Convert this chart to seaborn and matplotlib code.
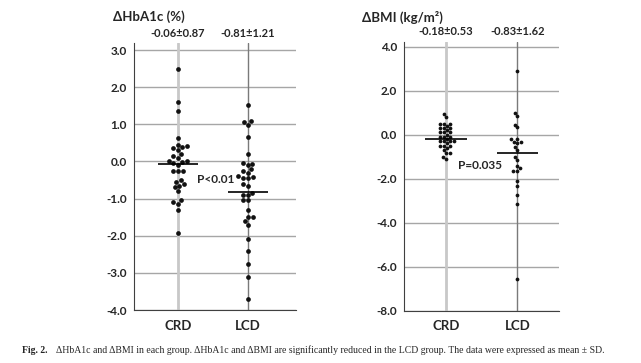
import pandas as pd
import numpy as np
import matplotlib.pyplot as plt
import matplotlib.transforms as mtransforms
import seaborn as sns

# Valores
grupos = ['CRD', 'LCD']

hba1c_crd = [2.5, 1.6, 1.35, 0.62, 0.45, 0.42, 0.38, 0.35, 0.3, 0.2, 0.15, 0.1, 0.02, 0.0,
             -0.02, -0.05, -0.1, -0.25, -0.25, -0.25, -0.5, -0.55, -0.6, -0.65, -0.7, -0.8,
             -1.05, -1.1, -1.15, -1.3, -1.93]
hba1c_lcd = [1.52, 1.08, 1.05, 0.98, 0.65, 0.2, -0.05, -0.08, -0.1, -0.2, -0.25, -0.3, -0.4,
             -0.42, -0.45, -0.45, -0.6, -0.65, -0.85, -0.9, -0.9, -1.05, -1.05, -1.3, -1.5,
             -1.5, -1.6, -1.7, -2.1, -2.4, -2.75, -3.1, -3.7]
bmi_crd = [0.95, 0.8, 0.5, 0.5, 0.5, 0.4, 0.3, 0.3, 0.3, 0.2, 0.1, 0.1, 0.1, 0.0, -0.1, -0.1,
           -0.1, -0.2, -0.3, -0.3, -0.3, -0.3, -0.4, -0.5, -0.5, -0.5, -0.6, -0.7, -0.85,
           -0.85, -1.0, -1.1]
bmi_lcd = [2.9, 1.0, 0.86, 0.45, 0.33, -0.22, -0.22, -0.33, -0.33, -0.4, -0.55, -0.68,
           -1.0, -1.13, -1.43, -1.53, -1.65, -1.65, -2.1, -2.33, -2.75, -3.14, -6.55]

media_hba1c = [-0.06, -0.81]
dp_hba1c = [0.87, 1.21]
media_bmi = [-0.18, -0.83]
dp_bmi = [0.53, 1.62]

ticks_hba1c = [3, 2, 1, 0, -1, -2, -3, -4]
ticks_bmi = [4, 2, 0, -2, -4, -6, -8]

sns.set_style('white')
plt.rcParams['font.family'] = ['Lato', 'DejaVu Sans']

fig = plt.figure(figsize=(6.41, 3.63), dpi=100)
ax1 = fig.add_axes([0.209, 0.146, 0.2527, 0.7355])
ax2 = fig.add_axes([0.630, 0.144, 0.2418, 0.741])

paineis = [
    (ax1, hba1c_crd, hba1c_lcd, media_hba1c, dp_hba1c, ticks_hba1c, (-4, 3.19), (-0.63, 1.69),
     'ΔHbA1c (%)', (0.176, 0.953), 0.909, 'P<0.01', (0.27, -0.49), 3.4),
    (ax2, bmi_crd, bmi_lcd, media_bmi, dp_bmi, ticks_bmi, (-8, 4.22), (-0.59, 1.58),
     'ΔBMI (kg/m²)', (0.565, 0.953), 0.913, 'P=0.035', (0.17, -1.4), 2.7),
]

for ax, crd, lcd, medias, dps, ticks, ylim, xlim, titulo, tpos, ytopo, ptxt, ppos, tam in paineis:
    df = pd.DataFrame({
        'grupo': ['CRD'] * len(crd) + ['LCD'] * len(lcd),
        'valor': crd + lcd,
    })
    for t in ticks:
        ax.axhline(t, color='#a6a6a6', lw=1, zorder=0)
    ax.axvline(0, color='#c8c8c8', lw=2, zorder=0.5)
    ax.axvline(1, color='#7a7a7a', lw=1, zorder=0.5)
    sns.swarmplot(data=df, x='grupo', y='valor', order=grupos, color='#111111',
                  size=tam, ax=ax, zorder=3)
    for i, m in enumerate(medias):
        ax.hlines(m, i - 0.29, i + 0.29, color='black', lw=1.2, zorder=4)
    ax.set_xlim(*xlim)
    ax.set_ylim(*ylim)
    ax.set_yticks(ticks)
    ax.set_yticklabels([f'{t:.1f}' for t in ticks], fontweight='bold', fontsize=8.5)
    ax.set_xticks([0, 1])
    ax.set_xticklabels(grupos, fontweight='bold', fontsize=9.5)
    ax.set_xlabel('')
    ax.set_ylabel('')
    ax.tick_params(axis='y', length=3, color='#808080', pad=2)
    ax.tick_params(axis='x', length=0, pad=7)
    for lado in ['top', 'right']:
        ax.spines[lado].set_visible(False)
    ax.spines['left'].set_color('#404040')
    ax.spines['bottom'].set_color('#404040')
    trans = mtransforms.blended_transform_factory(ax.transData, fig.transFigure)
    for i in range(2):
        ax.text(i, ytopo, f'{medias[i]:.2f}±{dps[i]:.2f}', transform=trans,
                ha='center', va='center', fontsize=8, fontweight='bold')
    fig.text(tpos[0], tpos[1], titulo, ha='left', va='center', fontsize=9.5, fontweight='bold')
    ax.text(ppos[0], ppos[1], ptxt, ha='left', va='center', fontsize=8.5, fontweight='bold')

serif = ['Liberation Serif', 'DejaVu Serif']
fig.text(0.035, 0.035, 'Fig. 2.', fontsize=7, fontweight='bold', family=serif, va='center')
fig.text(0.088, 0.035, 'ΔHbA1c and ΔBMI in each group. ΔHbA1c and ΔBMI are significantly '
         'reduced in the LCD group. The data were expressed as mean ± SD.',
         fontsize=7, family=serif, va='center')

fig.savefig('out.png', dpi=100)
